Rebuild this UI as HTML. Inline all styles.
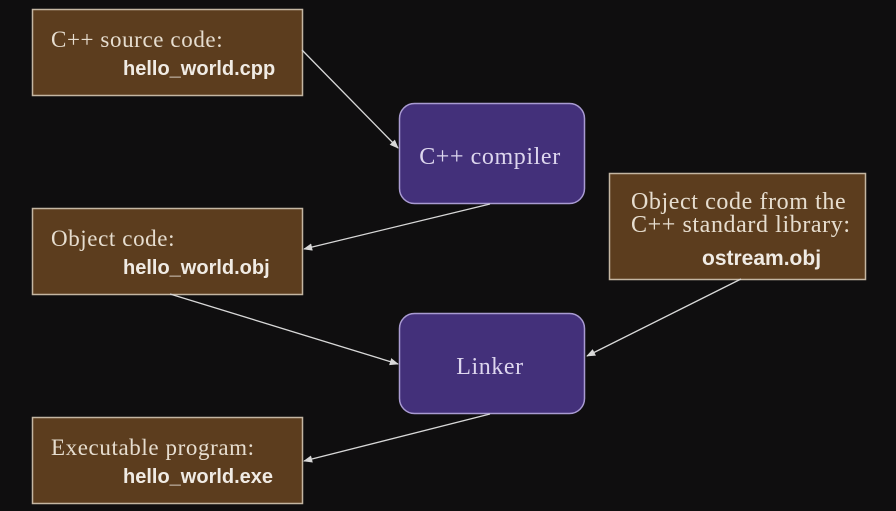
<!DOCTYPE html>
<html><head><meta charset="utf-8"><style>
html,body{margin:0;padding:0;background:#0f0e0f;}
svg{display:block}
.s{font-family:"Liberation Serif",serif;font-size:23px;letter-spacing:0.6px;fill:#e6ddcf}
.b{font-family:"Liberation Sans",sans-serif;font-weight:bold;font-size:20px;fill:#f0ebe4}
.p{font-family:"Liberation Serif",serif;font-size:23px;letter-spacing:0.6px;fill:#ddd6ee}
</style></head><body>
<svg width="896" height="511" viewBox="0 0 896 511">
<defs><marker id="a" viewBox="0 0 10 10" refX="9" refY="5" markerWidth="7" markerHeight="7" orient="auto"><path d="M0,1 L10,5 L0,9 z" fill="#d8d8d8"/></marker></defs>
<rect width="896" height="511" fill="#0f0e0f"/>
<g fill="#5c3d1e" stroke="#c4b6a2" stroke-width="1.5">
<rect x="32.5" y="9.5" width="270" height="86"/>
<rect x="32.5" y="208.5" width="270" height="86"/>
<rect x="32.5" y="417.5" width="270" height="86"/>
<rect x="609.5" y="173.5" width="256" height="106"/>
</g>
<g fill="#43307a" stroke="#a99bd2" stroke-width="1.5">
<rect x="399.5" y="103.5" width="185" height="100" rx="15"/>
<rect x="399.5" y="313.5" width="185" height="100" rx="15"/>
</g>
<g stroke="#d8d8d8" stroke-width="1.3" fill="none" marker-end="url(#a)">
<line x1="302" y1="50" x2="398" y2="148"/>
<line x1="490" y1="204" x2="304" y2="249"/>
<line x1="170" y1="294" x2="398" y2="364"/>
<line x1="741" y1="279" x2="587" y2="356"/>
<line x1="490" y1="414" x2="304" y2="461"/>
</g>
<text class="s" x="51" y="47">C++ source code:</text>
<text class="b" x="123" y="75">hello_world.cpp</text>
<text class="s" x="51" y="246">Object code:</text>
<text class="b" x="123" y="274">hello_world.obj</text>
<text class="s" x="51" y="455">Executable program:</text>
<text class="b" x="123" y="483">hello_world.exe</text>
<text class="s" x="631" y="209" style="font-size:24px">Object code from the</text>
<text class="s" x="631" y="232" style="font-size:24px">C++ standard library:</text>
<text class="b" x="702" y="265" style="font-size:21px">ostream.obj</text>
<text class="p" x="490" y="164" text-anchor="middle" style="font-size:24px">C++ compiler</text>
<text class="p" x="490" y="374" text-anchor="middle" style="font-size:24px">Linker</text>
</svg>
</body></html>
